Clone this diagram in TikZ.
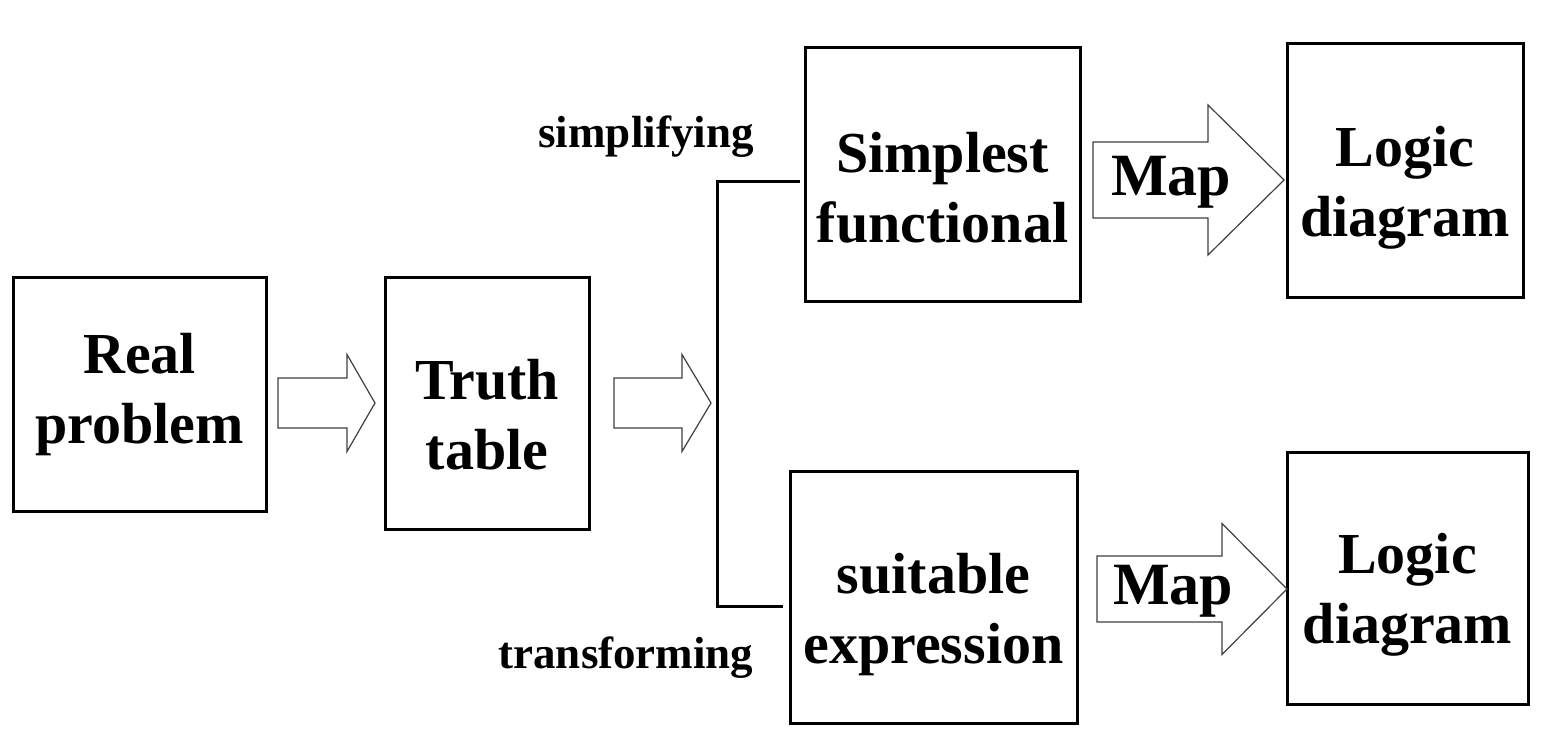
\documentclass[tikz,border=0pt]{standalone}
\usepackage{fontspec}
\setmainfont{Liberation Serif}
\usepackage{tikz}
\usetikzlibrary{positioning,calc}

% hollow block arrow: tail x, tip x, centre y, shaft half, head half, head length
\newcommand{\fatarrow}[6]{%
  \draw[hollow] (#1,#3-#4) -- (#2-#6,#3-#4) -- (#2-#6,#3-#5) -- (#2,#3)
    -- (#2-#6,#3+#5) -- (#2-#6,#3+#4) -- (#1,#3+#4) -- cycle;}

\begin{document}
\begin{tikzpicture}[x=1pt, y=-1pt,
    box/.style={draw, line width=3pt, inner sep=0pt},
    txt/.style={align=center, inner sep=0pt,
      font=\fontsize{58}{70}\selectfont\bfseries},
    hollow/.style={draw=black!75, line width=1.2pt, fill=white},
    lbl/.style={font=\fontsize{45}{54}\selectfont\bfseries, inner sep=0pt},
    maplbl/.style={font=\fontsize{60}{72}\selectfont\bfseries, inner sep=0pt}]
    \useasboundingbox (0,0) rectangle (1548,752);
    % boxes
    \node[box, minimum width=253pt, minimum height=234pt] (real) at (139.5,394) {};
    \node[box, minimum width=204pt, minimum height=252pt] (truth) at (487,403) {};
    \node[box, minimum width=275pt, minimum height=253pt] (simp) at (942.5,174.5) {};
    \node[box, minimum width=236pt, minimum height=253pt] (logicA) at (1405,170.5) {};
    \node[box, minimum width=287pt, minimum height=252pt] (suit) at (933.5,597) {};
    \node[box, minimum width=241pt, minimum height=252pt] (logicB) at (1407.5,578) {};
    % box texts
    \node[txt] (realtxt) at ([yshift=-1pt]real.center) {Real\\problem};
    \node[txt] (truthtxt) at ([yshift=-12pt]truth.center) {Truth\\table};
    \node[txt] (simptxt) at ([yshift=-13pt]simp.center) {Simplest\\functional};
    \node[txt] (logicAtxt) at ([yshift=-17pt]logicA.center) {Logic\\diagram};
    \node[txt] (suittxt) at ([yshift=-18pt]suit.center) {suitable\\expression};
    \node[txt] (logicBtxt) at ([yshift=-17pt]logicB.center) {Logic\\diagram};
    % fat arrows
    \fatarrow{278}{375}{403}{25}{48.5}{28}
    \fatarrow{614}{711}{403}{25}{48.5}{29}
    \fatarrow{1093}{1284}{180}{38}{75}{76}
    \fatarrow{1097}{1287}{589}{33}{65.5}{65}
    \node[maplbl] (mapA) at (1171,182) {Map};
    \node[maplbl] (mapB) at (1173,591) {Map};
    % branch
    \coordinate (brtop) at (800,181);
    \coordinate (brbot) at (783,606);
    \draw[line width=3pt] (brtop) -- ++(-83,0) |- (brbot);
    \node[lbl] (simplab) at (646,137) {simplifying};
    \node[lbl] (translab) at (626,658) {transforming};
\end{tikzpicture}
\end{document}
